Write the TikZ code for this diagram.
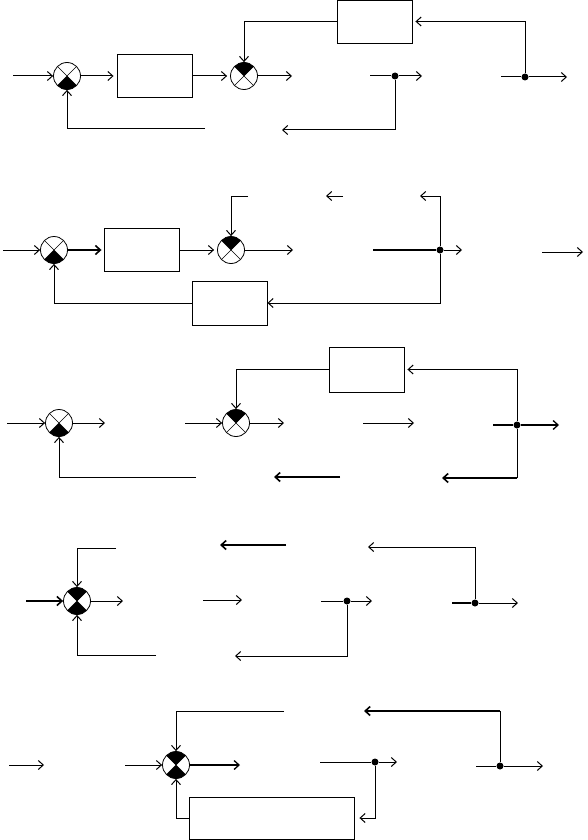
\documentclass[tikz,border=0pt]{standalone}
\usepackage{tikz}
\usetikzlibrary{arrows.meta}

\begin{document}
\begin{tikzpicture}[
    x=1pt, y=-1pt,
    block/.style={
        rectangle,
        draw,
        line width=0.9pt,
        minimum width=75pt,
        minimum height=43pt,
        inner sep=0pt
    },
    sumlow/.style={
        circle,
        draw,
        line width=0.8pt,
        minimum size=27pt,
        inner sep=0pt,
        path picture={
            \fill (path picture bounding box.center) -- (path picture bounding box.south west)
                -- (path picture bounding box.south east) -- cycle;
            \draw[line width=0.5pt] (path picture bounding box.north west) -- (path picture bounding box.south east)
                (path picture bounding box.north east) -- (path picture bounding box.south west);
        }
    },
    sumtop/.style={
        circle,
        draw,
        line width=0.8pt,
        minimum size=27pt,
        inner sep=0pt,
        path picture={
            \fill (path picture bounding box.center) -- (path picture bounding box.north west)
                -- (path picture bounding box.north east) -- cycle;
            \draw[line width=0.5pt] (path picture bounding box.north west) -- (path picture bounding box.south east)
                (path picture bounding box.north east) -- (path picture bounding box.south west);
        }
    },
    sumboth/.style={
        circle,
        draw,
        line width=0.8pt,
        minimum size=27pt,
        inner sep=0pt,
        path picture={
            \fill (path picture bounding box.center) -- (path picture bounding box.north west)
                -- (path picture bounding box.north east) -- cycle;
            \fill (path picture bounding box.center) -- (path picture bounding box.south west)
                -- (path picture bounding box.south east) -- cycle;
            \draw[line width=0.5pt] (path picture bounding box.north west) -- (path picture bounding box.south east)
                (path picture bounding box.north east) -- (path picture bounding box.south west);
        }
    },
    dot/.style={
        circle,
        fill,
        inner sep=0pt,
        minimum size=7pt
    },
    line/.style={
        line width=1pt
    },
    heavy/.style={
        line width=1.6pt
    },
    arr/.style={
        -{Straight Barb[length=5pt,width=9pt]},
        line width=1pt
    },
    heavyarr/.style={
        arr,
        line width=1.6pt
    }
]

\useasboundingbox (0,0) rectangle (587,840);

% ---------- Loop 1 ----------
\coordinate (a-in) at (13,76);
\node[sumlow] (a-s1) at (67,76) {};
\node[block] (a-g1) at (154.5,76) {};
\node[sumtop] (a-s2) at (244,76) {};
\coordinate (a-o2) at (292,76);
\node[block] (a-h) at (374.5,21.5) {};

% Branch points
\coordinate (a-m1) at (370,76);
\node[dot] (a-d1) at (395,76) {};
\coordinate (a-m2) at (422,76);
\coordinate (a-f2) at (282,130);
\coordinate (a-l1) at (205,129);
\coordinate (a-r1) at (501,77);
\node[dot] (a-d2) at (525,77) {};
\coordinate (a-r2) at (567,77);

% Arrows
\draw[arr] (a-in) -- (a-s1);
\draw[arr, shorten >=3pt] (a-s1) -- (a-g1);
\draw[arr, shorten >=3pt] (a-g1) -- (a-s2);
\draw[arr] (a-s2) -- (a-o2);
\draw[arr] (a-h) -| (a-s2);
\draw[line] (a-m1) -- (a-d1);
\draw[arr] (a-d1) -- (a-m2);
\draw[arr] (a-d1) |- (a-f2);
\draw[arr] (a-l1) -| (a-s1);
\draw[line] (a-r1) -- (a-d2);
\draw[arr] (a-d2) -- (a-r2);
\draw[arr, shorten >=3pt] (a-d2) |- (a-h);

% ---------- Loop 2 ----------
\coordinate (b-in) at (3,250);
\node[sumlow] (b-s1) at (54,250) {};
\node[block] (b-g1) at (141.5,250) {};
\node[sumtop] (b-s2) at (231,250) {};
\coordinate (b-o2) at (293,250);
\coordinate (b-t1) at (248,196);
\node[block, minimum height=44pt] (b-h) at (229.5,303) {};

% Branch points
\coordinate (b-m1) at (373,250);
\node[dot] (b-d1) at (440,250) {};
\coordinate (b-m2) at (462,250);
\coordinate (b-u2) at (420,196);
\coordinate (b-v1) at (343,196);
\coordinate (b-v2) at (326,196);
\coordinate (b-r1) at (542,252);
\coordinate (b-r2) at (583,252);

% Arrows
\draw[arr] (b-in) -- (b-s1);
\draw[heavyarr, shorten >=2pt] (b-s1) -- (b-g1);
\draw[arr, shorten >=3pt] (b-g1) -- (b-s2);
\draw[arr] (b-s2) -- (b-o2);
\draw[arr] (b-t1) -| (b-s2);
\draw[heavy] (b-m1) -- (b-d1);
\draw[arr] (b-d1) -- (b-m2);
\draw[arr] (b-d1) |- (b-u2);
\draw[arr] (b-d1) |- (b-h);
\draw[arr] (b-h) -| (b-s1);
\draw[arr] (b-v1) -- (b-v2);
\draw[arr] (b-r1) -- (b-r2);

% ---------- Loop 3 ----------
\coordinate (c-in) at (7,423);
\node[sumlow] (c-s1) at (59,423) {};
\coordinate (c-o1) at (105,423);
\coordinate (c-i2) at (185,423);
\node[sumtop] (c-s2) at (236,423) {};
\coordinate (c-o2) at (284,423);
\node[block, minimum height=45pt] (c-h) at (366.5,369.5) {};

% Branch points
\coordinate (c-n1) at (363,423);
\coordinate (c-n2) at (414,423);
\coordinate (c-m1) at (493,425);
\node[dot] (c-d1) at (517,425) {};
\coordinate (c-m2) at (559,425);
\coordinate (c-f1) at (442,478);
\coordinate (c-l1) at (196,477);
\coordinate (c-k1) at (340,477);
\coordinate (c-k2) at (274,477);

% Arrows
\draw[arr] (c-in) -- (c-s1);
\draw[arr] (c-s1) -- (c-o1);
\draw[arr] (c-i2) -- (c-s2);
\draw[arr] (c-s2) -- (c-o2);
\draw[arr] (c-h) -| (c-s2);
\draw[arr] (c-n1) -- (c-n2);
\draw[heavy] (c-m1) -- (c-d1);
\draw[heavyarr, line width=1.3pt] (c-d1) -- (c-m2);
\draw[arr, shorten >=3pt] (c-d1) |- (c-h);
\draw[line] (c-d1) -- (c-d1 |- c-f1);
\draw[heavyarr] (c-d1 |- c-f1) -- (c-f1);
\draw[arr] (c-l1) -| (c-s1);
\draw[heavyarr] (c-k1) -- (c-k2);

% ---------- Loop 4 ----------
\coordinate (d-in) at (26,601);
\node[sumboth] (d-s1) at (77,601) {};
\coordinate (d-o1) at (123,601);
\coordinate (d-t1) at (116,548);
\coordinate (d-l1) at (156,655);
\coordinate (d-k1) at (286,545);
\coordinate (d-k2) at (220,545);
\coordinate (d-n1) at (203,600);
\coordinate (d-n2) at (242,600);

% Branch points
\coordinate (d-m1) at (321,601);
\node[dot] (d-d1) at (347,601) {};
\coordinate (d-m2) at (372,601);
\coordinate (d-f1) at (235,656);
\coordinate (d-r1) at (452,603);
\node[dot] (d-d2) at (475,603) {};
\coordinate (d-r2) at (518,603);
\coordinate (d-u1) at (368,547);

% Arrows
\draw[heavyarr] (d-in) -- (d-s1);
\draw[arr] (d-s1) -- (d-o1);
\draw[arr] (d-t1) -| (d-s1);
\draw[arr] (d-l1) -| (d-s1);
\draw[heavyarr] (d-k1) -- (d-k2);
\draw[arr] (d-n1) -- (d-n2);
\draw[line] (d-m1) -- (d-d1);
\draw[arr] (d-d1) -- (d-m2);
\draw[arr] (d-d1) |- (d-f1);
\draw[heavy] (d-r1) -- (d-d2);
\draw[arr] (d-d2) -- (d-r2);
\draw[arr] (d-d2) |- (d-u1);

% ---------- Loop 5 ----------
\coordinate (e-in) at (9,765);
\coordinate (e-o1) at (44,765);
\coordinate (e-i2) at (125,765);
\node[sumboth] (e-s1) at (176,765) {};
\coordinate (e-o2) at (240,765);
\coordinate (e-t1) at (284,711);
\node[block, minimum width=165pt, minimum height=42pt] (e-h) at (271.5,818) {};

% Branch points
\coordinate (e-m1) at (320,762);
\node[dot] (e-d1) at (375,762) {};
\coordinate (e-m2) at (397,762);
\coordinate (e-r1) at (476,766);
\node[dot] (e-d2) at (500,766) {};
\coordinate (e-r2) at (543,766);
\coordinate (e-u1) at (364,711);

% Arrows
\draw[arr] (e-in) -- (e-o1);
\draw[arr] (e-i2) -- (e-s1);
\draw[heavyarr, line width=1.3pt] (e-s1) -- (e-o2);
\draw[arr] (e-t1) -| (e-s1);
\draw[arr] (e-h) -| (e-s1);
\draw[line] (e-m1) -- (e-d1);
\draw[arr] (e-d1) -- (e-m2);
\draw[arr, shorten >=5pt] (e-d1) |- (e-h);
\draw[line] (e-r1) -- (e-d2);
\draw[arr] (e-d2) -- (e-r2);
\draw[line] (e-d2) -- (e-d2 |- e-u1);
\draw[heavyarr] (e-d2 |- e-u1) -- (e-u1);

\end{tikzpicture}
\end{document}
